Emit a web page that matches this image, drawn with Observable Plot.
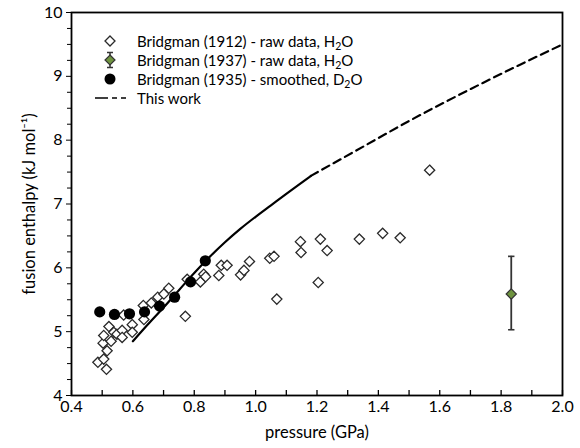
<!DOCTYPE html>
<html>
<head>
<meta charset="utf-8">
<script src="https://cdn.jsdelivr.net/npm/d3@7"></script>
<script src="https://cdn.jsdelivr.net/npm/@observablehq/plot@0.6"></script>
<style>
  html, body { margin: 0; padding: 0; background: #fff; }
  #chart { width: 580px; height: 448px; }
  #chart g[aria-label="x-axis tick label"], #chart g[aria-label="y-axis tick label"] { font-size: 16px; }
  #chart g[aria-label="x-axis label"], #chart g[aria-label="y-axis label"] { font-size: 16.5px; }
</style>
</head>
<body>
<div id="chart"></div>
<script>
// ---- data ----
const bridgman1912P = [0.486,0.514,0.505,0.516,0.503,0.505,0.522,0.529,0.538,0.548,0.565,0.565,0.570,0.598,0.598,0.634,0.636,0.660,0.681,0.701,0.717,0.771,0.777,0.820,0.831,0.837,0.880,0.888,0.907,0.951,0.962,0.980,1.046,1.060,1.069,1.146,1.148,1.204,1.211,1.233,1.338,1.414,1.471,1.567];
const bridgman1912H = [4.52,4.41,4.57,4.70,4.82,4.94,5.08,4.85,4.99,4.96,5.02,4.91,5.26,5.11,4.99,5.41,5.19,5.45,5.54,5.59,5.68,5.24,5.82,5.78,5.90,5.86,5.88,6.04,6.04,5.89,5.96,6.10,6.15,6.18,5.51,6.41,6.24,5.77,6.45,6.27,6.45,6.54,6.47,7.53];

const bridgman1935P = [0.492,0.540,0.589,0.638,0.687,0.736,0.788,0.836];
const bridgman1935H = [5.31,5.27,5.28,5.31,5.40,5.54,5.78,6.11];

const bridgman1937P = [1.833];
const bridgman1937H = [5.59];
const bridgman1937Lo = [5.03];
const bridgman1937Hi = [6.18];

const workSolidP = [0.60,0.65,0.70,0.75,0.80,0.85,0.90,0.95,1.00,1.05,1.10,1.18];
const workSolidH = [4.85,5.12,5.38,5.65,5.92,6.17,6.40,6.61,6.80,6.98,7.16,7.44];
const workDashP = [1.18,1.325,1.50,1.75,2.00];
const workDashH = [7.44,7.83,8.30,8.92,9.50];

const xMajorTicks = [0.4,0.6,0.8,1.0,1.2,1.4,1.6,1.8,2.0];
const xMinorTicks = [0.5,0.7,0.9,1.1,1.3,1.5,1.7,1.9];
const yMajorTicks = [4,5,6,7,8,9,10];
const yMinorTicks = d3.range(4, 10.001, 0.25).filter(v => Math.abs(v - Math.round(v)) > 1e-6);

const legendLabels = [
  ["Bridgman (1912) - raw data, H", "2", "O"],
  ["Bridgman (1937) - raw data, H", "2", "O"],
  ["Bridgman (1935) - smoothed, D", "2", "O"],
  ["This work", "", ""]
];

// ---- tables ----
const d1912 = bridgman1912P.map((p, i) => ({p, h: bridgman1912H[i]}));
const d1935 = bridgman1935P.map((p, i) => ({p, h: bridgman1935H[i]}));
const d1937 = bridgman1937P.map((p, i) => ({p, h: bridgman1937H[i], lo: bridgman1937Lo[i], hi: bridgman1937Hi[i]}));
const solid = workSolidP.map((p, i) => ({p, h: workSolidH[i]}));
const dashed = workDashP.map((p, i) => ({p, h: workDashH[i]}));

const FONT = "Lato, 'Open Sans', sans-serif";
const GREEN = "#6f9440";
const capSymbol = { draw(ctx) { ctx.moveTo(-3.2, 0); ctx.lineTo(3.2, 0); } };

const plot = Plot.plot({
  width: 580,
  height: 448,
  marginLeft: 71,
  marginRight: 18,
  marginTop: 12,
  marginBottom: 53,
  x: { domain: [0.4, 2.0] },
  y: { domain: [4, 10] },
  style: { fontFamily: FONT, fontSize: "15px", color: "#000", background: "#fff", overflow: "visible" },
  marks: [
    Plot.axisY(yMajorTicks, { tickSize: 5, tickPadding: 4, tickFormat: d => String(d),
      label: "fusion enthalpy (kJ mol⁻¹)", labelAnchor: "center", labelArrow: "none", labelOffset: 48 }),
    Plot.axisY(yMinorTicks, { tickSize: 4, tickFormat: () => "", label: null }),
    Plot.axisX(xMajorTicks, { tickSize: 0, tickPadding: 5, tickFormat: d3.format(".1f"),
      label: "pressure (GPa)", labelAnchor: "center", labelArrow: "none", labelOffset: 42 }),
    Plot.tickX(xMajorTicks.concat(xMinorTicks), { x: d => d, insetTop: 378, stroke: "#000", strokeWidth: 1.3 }),
    Plot.frame({ stroke: "#000", strokeWidth: 1.8 }),
    Plot.line(solid, { x: "p", y: "h", stroke: "#000", strokeWidth: 2.2, curve: "monotone-x" }),
    Plot.line(dashed, { x: "p", y: "h", stroke: "#000", strokeWidth: 2.2, strokeDasharray: "8,5", curve: "monotone-x" }),
    Plot.dot(d1912, { x: "p", y: "h", symbol: "diamond2", r: 4.6, fill: "#fff", stroke: "#2a2a2a", strokeWidth: 1.3 }),
    Plot.dot(d1935, { x: "p", y: "h", r: 5.6, fill: "#000", stroke: "none" }),
    Plot.ruleX(d1937, { x: "p", y1: "lo", y2: "hi", stroke: "#333", strokeWidth: 1.8 }),
    Plot.dot(d1937, { x: "p", y: "lo", symbol: capSymbol, stroke: "#333", strokeWidth: 1.6 }),
    Plot.dot(d1937, { x: "p", y: "hi", symbol: capSymbol, stroke: "#333", strokeWidth: 1.6 }),
    Plot.dot(d1937, { x: "p", y: "h", symbol: "diamond2", r: 4.6, fill: GREEN, stroke: "#333", strokeWidth: 1.2 })
  ]
});

document.getElementById("chart").appendChild(plot);

// ---- legend (inside the plot frame) ----
const svg = d3.select(plot);
const lg = svg.append("g").attr("font-family", FONT).attr("font-size", 15).attr("fill", "#000").attr("text-anchor", "start");
const rowY = [41, 60, 79, 98];
const symX = 110, textX = 137;
legendLabels.forEach((lab, i) => {
  const y = rowY[i];
  const g = lg.append("g");
  if (i === 0) {
    g.append("path").attr("d", `M${symX},${y-5}L${symX+5},${y}L${symX},${y+5}L${symX-5},${y}Z`)
      .attr("fill", "#fff").attr("stroke", "#2a2a2a").attr("stroke-width", 1.3);
  } else if (i === 1) {
    g.append("path").attr("d", `M${symX},${y-7.5}V${y+7.5}M${symX-3},${y-7.5}H${symX+3}M${symX-3},${y+7.5}H${symX+3}`)
      .attr("stroke", "#333").attr("stroke-width", 1.5).attr("fill", "none");
    g.append("path").attr("d", `M${symX},${y-5}L${symX+5},${y}L${symX},${y+5}L${symX-5},${y}Z`)
      .attr("fill", GREEN).attr("stroke", "#333").attr("stroke-width", 1.2);
  } else if (i === 2) {
    g.append("circle").attr("cx", symX).attr("cy", y).attr("r", 5.5).attr("fill", "#000");
  } else {
    g.append("line").attr("x1", 95).attr("x2", 127).attr("y1", y).attr("y2", y)
      .attr("stroke", "#000").attr("stroke-width", 1.6).attr("stroke-dasharray", "13,4,5,4,5,20");
  }
  const t = g.append("text").attr("x", textX).attr("y", y + 5.5);
  t.append("tspan").text(lab[0]);
  if (lab[1]) {
    t.append("tspan").attr("dy", 3.5).attr("font-size", 10.5).text(lab[1]);
    t.append("tspan").attr("dy", -3.5).text(lab[2]);
  }
});
</script>
</body>
</html>
